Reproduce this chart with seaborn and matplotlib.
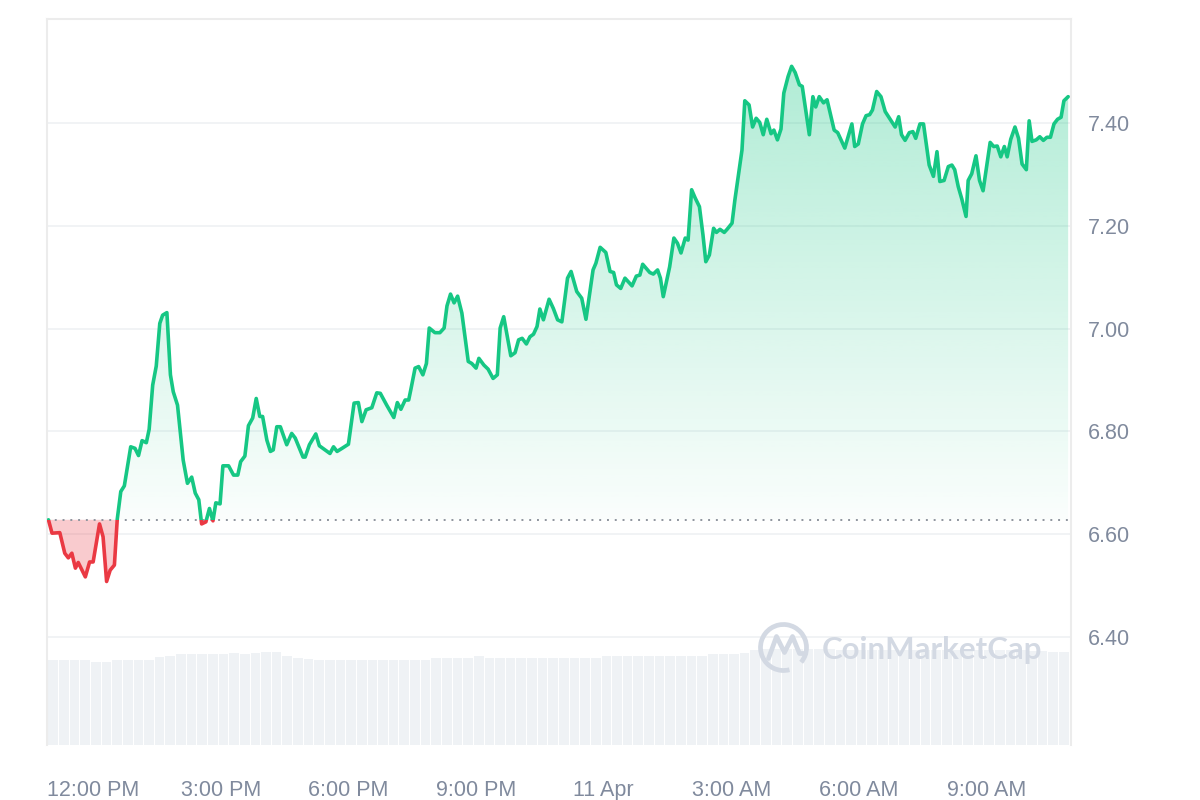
import numpy as np
import pandas as pd
import matplotlib
matplotlib.use("Agg")
import matplotlib.pyplot as plt
import seaborn as sns
from matplotlib.patches import Rectangle, PathPatch, Arc
from matplotlib.path import Path
from matplotlib.colors import to_rgb

# ==============================
# DATI (minuti rispetto a 12:00 PM del 10 Apr)
# ==============================
minutes = [
    -63, -58, -47, -40, -35, -30, -25, -21, -11, -5,
    0, 9, 14, 19, 24, 30, 34, 39, 44, 53,
    59, 64, 69, 75, 79, 84, 89, 94, 98, 104,
    109, 113, 119, 127, 133, 139, 144, 149, 153, 159,
    164, 169, 173, 179, 183, 191, 198, 204, 208, 214,
    219, 225, 230, 235, 239, 245, 250, 254, 259, 264,
    273, 280, 285, 296, 299, 305, 314, 319, 327, 334,
    339, 344, 351, 360, 368, 374, 379, 385, 393, 400,
    405, 414, 424, 429, 434, 440, 445, 448, 454, 459,
    465, 470, 474, 482, 489, 495, 499, 504, 509, 514,
    520, 525, 529, 534, 540, 544, 551, 557, 564, 570,
    574, 579, 589, 595, 600, 605, 611, 616, 621, 626,
    630, 635, 643, 649, 655, 661, 669, 674, 682, 689,
    695, 705, 709, 715, 723, 729, 734, 738, 744, 750,
    760, 766, 771, 775, 785, 790, 796, 800, 804, 813,
    819, 824, 829, 835, 839, 844, 849, 855, 860, 864,
    869, 875, 879, 884, 890, 894, 901, 905, 915, 919,
    925, 930, 935, 940, 945, 950, 956, 960, 965, 970,
    974, 980, 985, 990, 996, 1000, 1010, 1015, 1019, 1024,
    1030, 1035, 1045, 1050, 1060, 1070, 1074, 1079, 1085, 1090,
    1095, 1099, 1105, 1111, 1117, 1124, 1131, 1136, 1140, 1145,
    1151, 1156, 1160, 1166, 1171, 1179, 1185, 1190, 1194, 1200,
    1206, 1211, 1215, 1220, 1225, 1231, 1234, 1239, 1245, 1250,
    1255, 1265, 1270, 1275, 1280, 1285, 1289, 1294, 1300, 1305,
    1310, 1316, 1320, 1324, 1330, 1335, 1340, 1345, 1350, 1355,
    1360, 1365, 1369, 1375,
]

price = [
    6.628, 6.602, 6.603, 6.563, 6.554, 6.563, 6.534, 6.545, 6.517, 6.546,
    6.546, 6.620, 6.595, 6.508, 6.530, 6.540, 6.629, 6.683, 6.694, 6.770,
    6.767, 6.753, 6.782, 6.778, 6.804, 6.890, 6.927, 7.010, 7.026, 7.031,
    6.910, 6.877, 6.851, 6.744, 6.699, 6.711, 6.680, 6.667, 6.620, 6.624,
    6.650, 6.626, 6.661, 6.659, 6.733, 6.733, 6.715, 6.715, 6.741, 6.752,
    6.811, 6.826, 6.864, 6.829, 6.829, 6.783, 6.761, 6.764, 6.809, 6.809,
    6.774, 6.796, 6.787, 6.750, 6.750, 6.774, 6.795, 6.772, 6.764, 6.757,
    6.770, 6.761, 6.767, 6.775, 6.855, 6.856, 6.819, 6.842, 6.846, 6.875,
    6.874, 6.851, 6.827, 6.856, 6.843, 6.861, 6.861, 6.881, 6.923, 6.926,
    6.910, 6.932, 7.001, 6.992, 6.992, 7.001, 7.044, 7.067, 7.050, 7.063,
    7.030, 6.978, 6.936, 6.932, 6.923, 6.942, 6.929, 6.921, 6.903, 6.910,
    7.001, 7.023, 6.947, 6.953, 6.978, 6.981, 6.970, 6.984, 6.989, 7.004,
    7.038, 7.017, 7.057, 7.039, 7.017, 7.013, 7.098, 7.111, 7.072, 7.059,
    7.018, 7.114, 7.127, 7.158, 7.148, 7.111, 7.109, 7.085, 7.078, 7.098,
    7.083, 7.102, 7.104, 7.125, 7.109, 7.106, 7.114, 7.098, 7.062, 7.120,
    7.176, 7.166, 7.147, 7.176, 7.172, 7.270, 7.254, 7.237, 7.182, 7.130,
    7.143, 7.195, 7.187, 7.193, 7.187, 7.193, 7.205, 7.250, 7.347, 7.443,
    7.435, 7.392, 7.409, 7.401, 7.377, 7.407, 7.379, 7.386, 7.367, 7.388,
    7.458, 7.490, 7.510, 7.498, 7.474, 7.471, 7.377, 7.451, 7.431, 7.451,
    7.439, 7.445, 7.386, 7.381, 7.351, 7.398, 7.354, 7.359, 7.398, 7.414,
    7.416, 7.425, 7.461, 7.451, 7.422, 7.407, 7.392, 7.412, 7.377, 7.366,
    7.381, 7.383, 7.370, 7.398, 7.398, 7.318, 7.296, 7.344, 7.286, 7.288,
    7.315, 7.318, 7.309, 7.276, 7.252, 7.218, 7.288, 7.301, 7.336, 7.288,
    7.268, 7.362, 7.354, 7.355, 7.334, 7.354, 7.334, 7.368, 7.392, 7.370,
    7.320, 7.309, 7.404, 7.364, 7.367, 7.373, 7.366, 7.372, 7.372, 7.398,
    7.407, 7.411, 7.443, 7.451,
]

# volume 24h (barre da 15 minuti, unita' arbitrarie)
volume = [
    42.5, 42.5, 42.5, 42.5, 41.5, 41.5, 42.5, 42.5, 42.5, 42.5,
    44.0, 44.5, 45.5, 45.5, 45.5, 45.5, 45.5, 46.0, 45.5, 46.0,
    46.3, 46.3, 44.5, 43.3, 43.0, 42.5, 42.5, 42.5, 42.5, 42.5,
    42.5, 42.5, 42.5, 42.5, 42.5, 42.5, 43.4, 43.4, 43.4, 43.5,
    44.3, 43.4, 43.5, 43.4, 43.4, 43.4, 43.4, 43.4, 43.4, 43.4,
    43.4, 43.4, 44.4, 44.4, 44.4, 44.4, 44.4, 44.4, 44.4, 44.4,
    44.4, 44.4, 45.3, 45.3, 45.4, 46.0, 47.5, 47.8, 47.8, 48.0,
    48.0, 47.8, 47.8, 47.8, 47.5, 47.3, 47.3, 47.3, 47.3, 47.3,
    47.3, 47.3, 47.3, 47.3, 47.3, 47.3, 47.3, 47.3, 47.3, 47.3,
    47.3, 47.3, 46.9, 46.9, 46.7, 46.7,
]
vol_minutes = np.arange(len(volume)) * 15 + minutes[0]

x_ticks = [0, 180, 360, 540, 720, 900, 1080, 1260]
x_labels = ["12:00 PM", "3:00 PM", "6:00 PM", "9:00 PM", "11 Apr",
            "3:00 AM", "6:00 AM", "9:00 AM"]
y_ticks = [6.40, 6.60, 6.80, 7.00, 7.20, 7.40]
y_labels = ["6.40", "6.60", "6.80", "7.00", "7.20", "7.40"]

df = pd.DataFrame({"minuti": minutes, "prezzo": price})
base = price[0]

GREEN = "#16c784"
RED = "#ea3943"
GRIGIO = "#808a9d"

# ==============================
# FIGURA
# ==============================
sns.set_theme(style="white")
plt.rcParams['font.family'] = ['Liberation Sans', 'DejaVu Sans']

fig = plt.figure(figsize=(12, 8), dpi=100)
rect = [0.0392, 0.06875, 0.8533, 0.9081]
ax_vol = fig.add_axes(rect)
ax = fig.add_axes(rect, sharex=ax_vol)
ax.patch.set_visible(False)

xmin, xmax = -65, 1379
ymin, ymax = 6.19, 7.603

# --- volume ---
ax_vol.bar(vol_minutes, volume, width=13.6, align="edge",
           color="#eff2f5", linewidth=0)
ax_vol.set_ylim(0, 363.25)
ax_vol.set_xlim(xmin, xmax)
ax_vol.axis("off")

# --- area verde sfumata ---
poly = ax.fill_between(df["minuti"], df["prezzo"], base,
                       facecolor="none", edgecolor="none")
clip_patch = PathPatch(poly.get_paths()[0], transform=ax.transData,
                       facecolor="none", edgecolor="none")
ax.add_patch(clip_patch)

grad = np.zeros((256, 1, 4))
grad[:, 0, :3] = to_rgb(GREEN)
grad[:, 0, 3] = np.linspace(0.02, 0.34, 256)
im = ax.imshow(grad, extent=[xmin, xmax, base, 7.52], origin="lower",
               aspect="auto", zorder=1, interpolation="bilinear")
im.set_clip_path(clip_patch)

# --- area rossa ---
p_arr = np.array(price)
ax.fill_between(df["minuti"], df["prezzo"], base, where=p_arr < base,
                interpolate=True, color=RED, alpha=0.26, linewidth=0,
                zorder=1)

# --- linea di riferimento ---
ax.axhline(base, color="#8f959e", linestyle=(0, (1, 3)), linewidth=1.4,
           zorder=2)

# --- linea prezzo (verde sopra, rossa sotto) ---
sns.lineplot(data=df, x="minuti", y="prezzo", ax=ax, color=GREEN,
             linewidth=2.6, estimator=None, zorder=3)
sns.lineplot(data=df, x="minuti", y="prezzo", ax=ax, color=RED,
             linewidth=2.6, estimator=None, zorder=3)
line_g, line_r = ax.lines[-2], ax.lines[-1]
line_g.set_clip_path(Rectangle((xmin, base), xmax - xmin, 5,
                               transform=ax.transData))
line_r.set_clip_path(Rectangle((xmin, base - 5), xmax - xmin, 5,
                               transform=ax.transData))
line_g.set_solid_joinstyle("round")
line_r.set_solid_joinstyle("round")

# --- assi ---
ax.set_xlim(xmin, xmax)
ax.set_ylim(ymin, ymax)
ax.set_xticks(x_ticks)
ax.set_xticklabels(x_labels)
ax.set_yticks(y_ticks)
ax.set_yticklabels(y_labels)
ax.yaxis.tick_right()
ax.set_xlabel("")
ax.set_ylabel("")
ax.tick_params(axis="both", length=0, labelsize=15.5, labelcolor=GRIGIO)
ax.tick_params(axis="x", pad=25)
ax.tick_params(axis="y", pad=12)
ax.set_axisbelow(True)
ax.yaxis.grid(True, color="#eff1f3", linewidth=1.2)
ax.xaxis.grid(False)

for lato in ["top", "left", "right"]:
    ax.spines[lato].set_visible(True)
    ax.spines[lato].set_color("#ececec")
    ax.spines[lato].set_linewidth(1.5)
ax.spines["bottom"].set_visible(False)

# --- watermark ---
WM = "#d3d9e3"
fig.text(822 / 1200, 1 - 650 / 800, "CoinMarketCap", fontsize=22.5,
         fontweight="bold", color=WM, va="center", ha="left",
         family=["Lato", "DejaVu Sans"], zorder=5)

ax_logo = fig.add_axes([(783.5 - 27) / 1200, 1 - (647.5 + 27) / 800,
                        54 / 1200, 54 / 800])
ax_logo.set_xlim(-27, 27)
ax_logo.set_ylim(-27, 27)
ax_logo.axis("off")
ax_logo.add_patch(Arc((0, 0), 46, 46, theta1=-40, theta2=285,
                      color=WM, linewidth=3.4))
m_path = Path([(-15, -11), (-7, 11), (1, -5), (9, 11), (16, -6), (22, -6)])
ax_logo.add_patch(PathPatch(m_path, facecolor="none", edgecolor=WM,
                            linewidth=3.4, joinstyle="round",
                            capstyle="round"))

plt.savefig("out.png", dpi=100)
